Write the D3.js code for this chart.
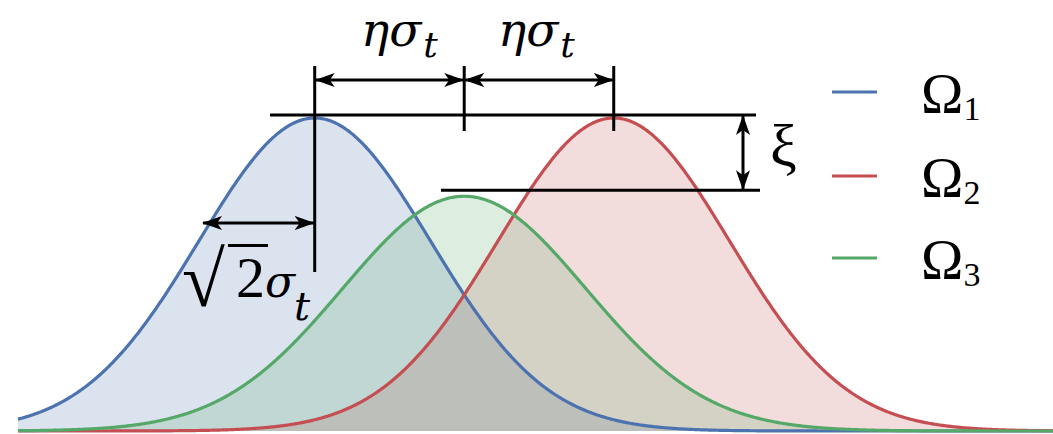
<!DOCTYPE html>
<html>
<head>
<meta charset="utf-8">
<script src="https://cdn.jsdelivr.net/npm/d3@7"></script>
<style>
  html, body { margin: 0; padding: 0; background: #fff; }
  svg { display: block; }
</style>
</head>
<body>
<svg id="chart" width="1053" height="434"></svg>
<script>
// Three class-conditional Gaussian densities (in units of the curve spread)
const seriesNames   = ["Ω", "Ω", "Ω"];
const seriesSubs    = ["1", "2", "3"];
const seriesMeans   = [-1.29, 1.29, 0];
const seriesSpreads = [1.0, 1.0, 1.05];
const seriesPeaks   = [1.0, 1.0, 0.75];
const seriesColors  = ["#4c72b0", "#c44e52", "#55a868"];

const xDomain = [-3.85, 5.08];
const yDomain = [0, 1];

const W = 1053, H = 434;
const svg = d3.select("#chart");

const x = d3.scaleLinear().domain(xDomain).range([18, W]);
const y = d3.scaleLinear().domain(yDomain).range([431, 118]);

// density samples across the visible range
const xs = d3.range(xDomain[0], xDomain[1] + 0.005, 0.01);
const curves = seriesMeans.map((m, i) => xs.map(v => ({
  x: v,
  y: seriesPeaks[i] * Math.exp(-((v - m) ** 2) / (2 * seriesSpreads[i] ** 2))
})));

const area = d3.area().x(d => x(d.x)).y0(y(0)).y1(d => y(d.y));
const line = d3.line().x(d => x(d.x)).y(d => y(d.y));

const plot = svg.append("g");
plot.selectAll("path.fill").data(curves).join("path")
  .attr("class", "fill")
  .attr("d", area)
  .attr("fill", (d, i) => seriesColors[i])
  .attr("fill-opacity", 0.2);

plot.selectAll("path.curve").data(curves).join("path")
  .attr("class", "curve")
  .attr("d", line)
  .attr("fill", "none")
  .attr("stroke", (d, i) => seriesColors[i])
  .attr("stroke-width", 3.2);

// ---- dimension annotations ----
const defs = svg.append("defs");
defs.append("marker")
  .attr("id", "head")
  .attr("viewBox", "0 0 20 14")
  .attr("refX", 19).attr("refY", 7)
  .attr("markerWidth", 20).attr("markerHeight", 14)
  .attr("markerUnits", "userSpaceOnUse")
  .attr("orient", "auto-start-reverse")
  .append("path")
  .attr("d", "M0,0 L20,7 L0,14 L5,7 Z")
  .attr("fill", "#000");

const ann = svg.append("g").attr("stroke", "#000").attr("stroke-width", 3).attr("fill", "none");
const xb = x(seriesMeans[0]), xr = x(seriesMeans[1]), xg = x(seriesMeans[2]);
const yTop = y(seriesPeaks[0]) - 3, yMid = y(seriesPeaks[2]) - 6;

// peak reference lines
ann.append("line").attr("x1", 270).attr("x2", 756).attr("y1", yTop).attr("y2", yTop);
ann.append("line").attr("x1", 441).attr("x2", 760).attr("y1", yMid).attr("y2", yMid);

// vertical guides
ann.append("line").attr("x1", xb).attr("x2", xb).attr("y1", 66).attr("y2", 272);
ann.append("line").attr("x1", xg).attr("x2", xg).attr("y1", 66).attr("y2", 131);
ann.append("line").attr("x1", xr).attr("x2", xr).attr("y1", 66).attr("y2", 131);

// double arrows
const arrow = (x1, y1, x2, y2) => ann.append("line")
  .attr("x1", x1).attr("y1", y1).attr("x2", x2).attr("y2", y2)
  .attr("marker-start", "url(#head)").attr("marker-end", "url(#head)");
arrow(xb + 1, 80, xg - 1, 80);
arrow(xg + 1, 80, xr - 1, 80);
arrow(203, 223, xb - 1, 223);
arrow(743, yTop + 1, 743, yMid - 1);

// ---- math labels ----
const txt = svg.append("g").attr("fill", "#000");
const mathFont = "'DejaVu Serif', serif";
const etaLabel = (x0) => {
  const t = txt.append("text").attr("x", x0).attr("y", 46)
    .attr("font-family", mathFont)
    .attr("font-style", "italic").attr("font-size", 47);
  t.append("tspan").text("ησ");
  t.append("tspan").attr("dx", 2).attr("dy", 11).attr("font-size", 36).text("t");
};
etaLabel(361);
etaLabel(498);

// √2 σ_t  (one text run, radical sign then radicand and symbol)
const root = txt.append("text").attr("x", 182).attr("y", 306)
  .attr("font-family", "'Liberation Serif', serif");
root.append("tspan").attr("font-size", 78).text("√");
root.append("tspan").attr("x", 236).attr("y", 297).attr("font-size", 58).text("2");
root.append("tspan").attr("x", 265).attr("y", 297)
  .attr("font-family", mathFont).attr("font-style", "italic").attr("font-size", 44).text("σ");
root.append("tspan").attr("x", 294).attr("y", 320)
  .attr("font-family", mathFont).attr("font-style", "italic").attr("font-size", 40).text("t");
svg.append("line").attr("x1", 228).attr("x2", 268).attr("y1", 245.5).attr("y2", 245.5)
  .attr("stroke", "#000").attr("stroke-width", 3);

// ξ
txt.append("text").attr("x", 770).attr("y", 166)
  .attr("font-family", "'Liberation Serif', serif").attr("font-size", 60).text("ξ");

// ---- legend ----
const legend = svg.append("g");
const legendY = [92, 176, 258];
seriesNames.forEach((name, i) => {
  legend.append("line")
    .attr("x1", 832).attr("x2", 877).attr("y1", legendY[i]).attr("y2", legendY[i])
    .attr("stroke", seriesColors[i]).attr("stroke-width", 3);
  const t = legend.append("text").attr("x", 921).attr("y", legendY[i] + 21)
    .attr("font-family", "'Liberation Serif', serif").attr("font-size", 57).attr("fill", "#000");
  t.append("tspan").text(name);
  t.append("tspan").attr("dy", 7).attr("font-size", 34).text(seriesSubs[i]);
});
</script>
</body>
</html>
